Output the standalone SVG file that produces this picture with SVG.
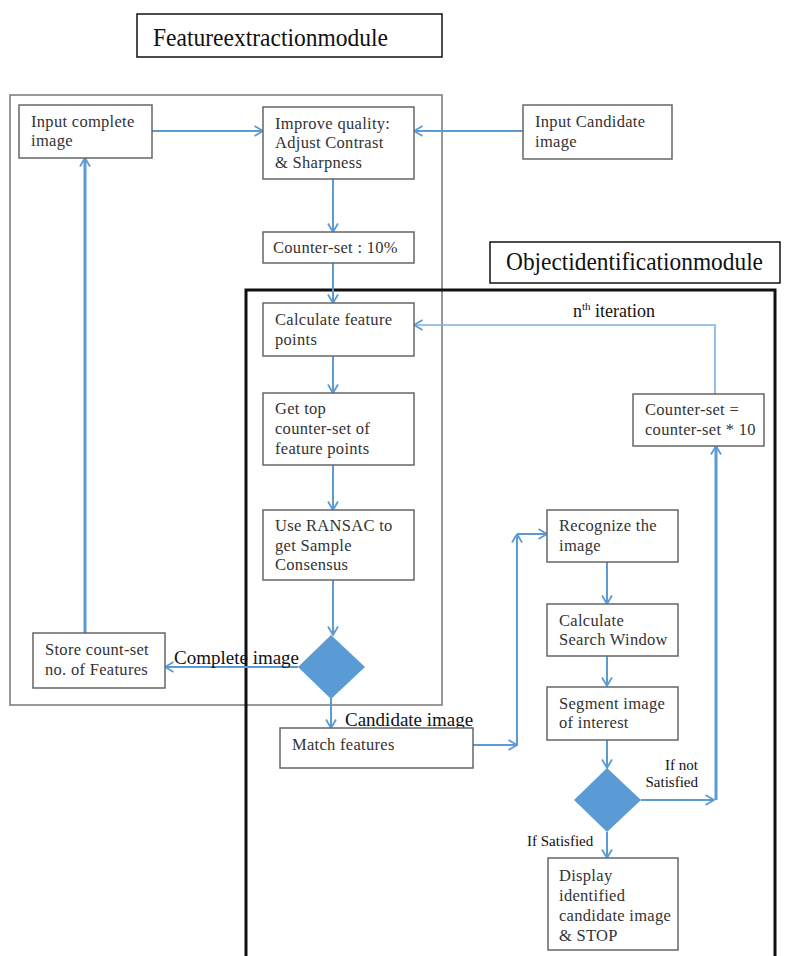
<svg xmlns="http://www.w3.org/2000/svg" width="785" height="956" viewBox="0 0 785 956" font-family="'Liberation Serif', 'DejaVu Serif', 'Times New Roman', serif">
<style>
text{font-family:'Liberation Serif','DejaVu Serif','Times New Roman',serif}
.box{fill:#fff;stroke:#666;stroke-width:1.5}
.t{font-size:16.5px;letter-spacing:0.3px;fill:#333}
.lbl{font-size:19px;fill:#111}
.sm{font-size:15px;fill:#111}
.title{font-size:25px;fill:#111}
.c{fill:none;stroke:#5b9bd5;stroke-width:2}
.dia{fill:#5b9bd5}
</style>
<defs>
<marker id="a" viewBox="0 0 10 12" refX="9.5" refY="6" markerWidth="10" markerHeight="12" markerUnits="userSpaceOnUse" orient="auto">
<path d="M1,1 L9.5,6 L1,11" fill="none" stroke="#5b9bd5" stroke-width="1.8"/>
</marker>
</defs>
<rect width="785" height="956" fill="#fff"/>
<g id="feature-module">
<rect x="10" y="95" width="432" height="610" fill="none" stroke="#777" stroke-width="1.5"/>
</g>
<g id="object-module">
<rect x="246" y="290" width="529" height="680" fill="none" stroke="#111" stroke-width="3"/>
</g>
<g id="title-feature">
<rect x="137" y="14" width="305" height="43" fill="#fff" stroke="#111" stroke-width="1.5"/>
<text class="title" x="153" y="46" textLength="235" lengthAdjust="spacingAndGlyphs">Featureextractionmodule</text>
</g>
<g id="title-object">
<rect x="490" y="242" width="290" height="41" fill="#fff" stroke="#111" stroke-width="1.5"/>
<text class="title" x="506" y="270" textLength="257" lengthAdjust="spacingAndGlyphs">Objectidentificationmodule</text>
</g>
<g id="connectors">
<path class="c" d="M152,131 H263" marker-end="url(#a)"/>
<path class="c" d="M523,131 H414" marker-end="url(#a)"/>
<path class="c" d="M333,179 V232" marker-end="url(#a)"/>
<path class="c" d="M333,263 V303" marker-end="url(#a)"/>
<path class="c" d="M333,356 V393" marker-end="url(#a)"/>
<path class="c" d="M333,465 V510" marker-end="url(#a)"/>
<path class="c" d="M333,580 V635" marker-end="url(#a)"/>
<path class="c" d="M298,667 H165" marker-end="url(#a)"/>
<path class="c" d="M85,633 V158" style="stroke-width:3" marker-end="url(#a)"/>
<path class="c" d="M331,698 V728" marker-end="url(#a)"/>
<path class="c" d="M473,745 H517" marker-end="url(#a)"/>
<path class="c" d="M517,745 V534" marker-end="url(#a)"/>
<path class="c" d="M517,534 H547" marker-end="url(#a)"/>
<path class="c" d="M607,562 V604" marker-end="url(#a)"/>
<path class="c" d="M607,656 V686" marker-end="url(#a)"/>
<path class="c" d="M607,740 V768" marker-end="url(#a)"/>
<path class="c" d="M641,800 H714" marker-end="url(#a)"/>
<path class="c" d="M716,800 V446" style="stroke-width:3" marker-end="url(#a)"/>
<path class="c" d="M715,394 V325 H414" style="stroke:#7fb0e0;stroke-width:1.6" marker-end="url(#a)"/>
<path class="c" d="M607,832 V858" marker-end="url(#a)"/>
</g>
<g id="input-complete">
<rect class="box" x="19" y="105" width="133" height="53"/>
<text class="t" x="31" y="127">Input complete</text>
<text class="t" x="31" y="146">image</text>
</g>
<g id="improve-quality">
<rect class="box" x="263" y="107" width="151" height="72"/>
<text class="t" x="275" y="129">Improve quality:</text>
<text class="t" x="275" y="148">Adjust Contrast</text>
<text class="t" x="275" y="168">&amp; Sharpness</text>
</g>
<g id="input-candidate">
<rect class="box" x="523" y="105" width="149" height="54"/>
<text class="t" x="535" y="127">Input Candidate</text>
<text class="t" x="535" y="147">image</text>
</g>
<g id="counter-set-10">
<rect class="box" x="263" y="232" width="151" height="31"/>
<text class="t" x="273" y="253">Counter-set : 10%</text>
</g>
<g id="calc-feature">
<rect class="box" x="263" y="303" width="151" height="53"/>
<text class="t" x="275" y="325">Calculate feature</text>
<text class="t" x="275" y="345">points</text>
</g>
<g id="get-top">
<rect class="box" x="263" y="393" width="151" height="72"/>
<text class="t" x="275" y="414">Get top</text>
<text class="t" x="275" y="434">counter-set of</text>
<text class="t" x="275" y="454">feature points</text>
</g>
<g id="ransac">
<rect class="box" x="263" y="510" width="151" height="70"/>
<text class="t" x="275" y="531">Use RANSAC to</text>
<text class="t" x="275" y="551">get Sample</text>
<text class="t" x="275" y="570">Consensus</text>
</g>
<g id="decision-1">
<polygon class="dia" points="331,635 365,667 331,699 298,667"/>
</g>
<g id="store">
<rect class="box" x="33" y="633" width="132" height="55"/>
<text class="t" x="45" y="655">Store count-set</text>
<text class="t" x="45" y="675">no. of Features</text>
</g>
<g id="label-complete">
<text class="lbl" x="174" y="664">Complete image</text>
</g>
<g id="label-candidate">
<text class="lbl" x="345" y="726">Candidate image</text>
</g>
<g id="match">
<rect class="box" x="280" y="728" width="193" height="40"/>
<text class="t" x="292" y="750">Match features</text>
</g>
<g id="recognize">
<rect class="box" x="547" y="510" width="131" height="52"/>
<text class="t" x="559" y="531">Recognize the</text>
<text class="t" x="559" y="551">image</text>
</g>
<g id="search-window">
<rect class="box" x="547" y="604" width="131" height="52"/>
<text class="t" x="559" y="626">Calculate</text>
<text class="t" x="559" y="645">Search Window</text>
</g>
<g id="segment">
<rect class="box" x="547" y="687" width="131" height="53"/>
<text class="t" x="559" y="709">Segment image</text>
<text class="t" x="559" y="728">of interest</text>
</g>
<g id="decision-2">
<polygon class="dia" points="607,768 641,800 607,832 574,800"/>
</g>
<g id="label-not-satisfied">
<text class="sm" x="698" y="770" text-anchor="end">If not</text>
<text class="sm" x="698" y="787" text-anchor="end">Satisfied</text>
</g>
<g id="label-satisfied">
<text class="sm" x="527" y="846">If Satisfied</text>
</g>
<g id="display">
<rect class="box" x="548" y="858" width="130" height="92"/>
<text class="t" x="559" y="881">Display</text>
<text class="t" x="559" y="901">identified</text>
<text class="t" x="559" y="921">candidate image</text>
<text class="t" x="559" y="941">&amp; STOP</text>
</g>
<g id="counter-set-x10">
<rect class="box" x="633" y="394" width="131" height="52"/>
<text class="t" x="645" y="415">Counter-set =</text>
<text class="t" x="645" y="435">counter-set * 10</text>
</g>
<g id="label-iteration">
<text class="lbl" x="573" y="317" style="font-size:18px">n<tspan dy="-7" style="font-size:11px">th</tspan><tspan dy="7"> iteration</tspan></text>
</g>
</svg>
